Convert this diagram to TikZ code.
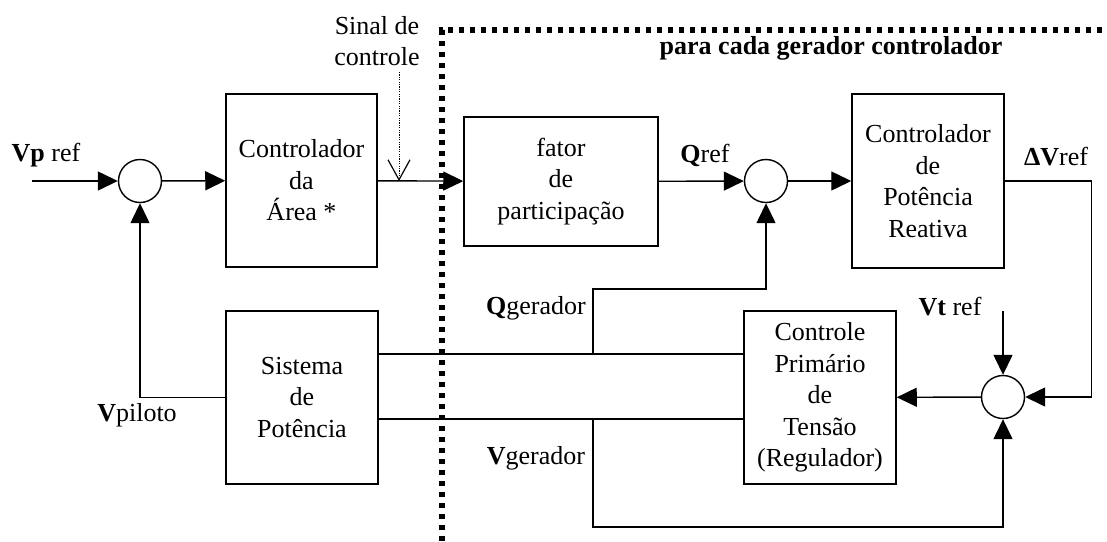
\documentclass[tikz,border=0pt]{standalone}
\usepackage{fontspec}
\setmainfont{Liberation Serif}
\usepackage{tikz}
\usetikzlibrary{arrows.meta}
\tikzset{
  txt/.style = {align=center, inner sep=0pt, text centered,
    font=\fontsize{13}{15.75}\selectfont},
  bloco/.style = {txt, rectangle, draw=black, line width=0.75pt},% bloco
  soma/.style = {circle, draw=black, line width=0.7pt,
    minimum size=21.5pt, inner sep=0pt},% somador
  rotulo/.style = {txt},% rotulo de sinal
  fronteira/.style = {line width=2.6pt, dash pattern=on 2.6pt off 2.9pt},% gerador
  sinal/.style = {line width=0.45pt, dash pattern=on 0.6pt off 0.6pt,
    -{Straight Barb[length=10pt,width=11pt,line width=0.6pt]}}% sinal de controle
}

\begin{document}
\begin{tikzpicture}[x=0.5pt,y=-0.5pt,line width=0.7pt,
  >={Triangle[length=10pt,width=9.5pt]}]
\useasboundingbox (0,0) rectangle (1107,541);
% fronteira
\draw[fronteira] (442,541) -- (442,30) -- (1107,30);
\node[txt, font=\fontsize{13}{15.75}\selectfont\bfseries] (titulo) at (831,48)
  {para cada gerador controlador};
% blocos
\node[bloco, minimum width=75.5pt, minimum height=86.5pt] (area) at (301.5,180.5)
  {Controlador\\da\\Área *};
\node[bloco, minimum width=97pt, minimum height=64.5pt] (fator) at (561,181.5)
  {fator\\de\\participação};
\node[bloco, minimum width=76pt, minimum height=87pt] (cpr) at (928,181)
  {Controlador\\de\\Potência\\Reativa};
\node[bloco, minimum width=76pt, minimum height=86.5pt] (sist) at (302,397.5)
  {Sistema\\de\\Potência};
\node[bloco, minimum width=76pt, minimum height=86.5pt] (cprim) at (820,397.5)
  {Controle\\Primário\\de\\Tensão\\(Regulador)};
% somadores
\node[soma] (s1) at (140,181) {};
\node[soma] (s2) at (766,181) {};
\node[soma] (s3) at (1003,397) {};
% pontos livres
\coordinate (vpin) at (32,181);
\coordinate (vtin) at (1003,311);
\coordinate (sig) at (399,72);
\coordinate (sigend) at (399,181);
\coordinate (qg) at (593,354);
\coordinate (vg) at (593,419);
% ligacoes
\draw[->] (vpin) -- (s1);
\draw[->] (s1) -- (area);
\draw[->] (area) -- (fator);
\draw[->] (fator) -- (s2);
\draw[->] (s2) -- (cpr);
\draw[->] (cpr.east) -- ++(87,0) |- (s3.east);
\draw[->] (vtin) -- (s3.north);
\draw[->] (s3) -- (cprim);
\draw[->] (sist.west) -| (s1.south);
\draw ([yshift=21.75pt]sist.east) -- ([yshift=21.75pt]cprim.west);
\draw ([yshift=-10.75pt]sist.east) -- ([yshift=-10.75pt]cprim.west);
\draw[->] (qg) -- ++(0,-65) -| (s2.south);
\draw[->] (vg) -- ++(0,108) -| (s3.south);
\draw[sinal] (sig) -- (sigend);
% rotulos
\node[rotulo] (lvp) at (46,155) {\textbf{Vp} ref};
\node[rotulo] (lsig) at (377,41) {Sinal de\\controle};
\node[rotulo] (lqref) at (705,155) {\textbf{Q}ref};
\node[rotulo] (ldv) at (1056,157) {\textbf{ΔV}ref};
\node[rotulo] (lvt) at (950,307) {\textbf{Vt} ref};
\node[rotulo] (lqg) at (536,308) {\textbf{Q}gerador};
\node[rotulo] (lvg) at (536,458) {\textbf{V}gerador};
\node[rotulo] (lvpil) at (137,415) {\textbf{V}piloto};
\end{tikzpicture}
\end{document}
